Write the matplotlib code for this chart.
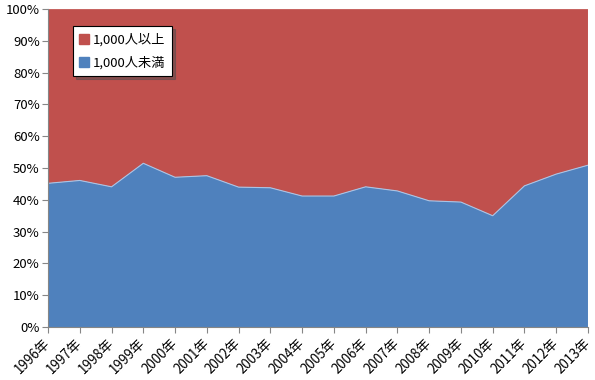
import numpy as np
import matplotlib
matplotlib.use("Agg")
import matplotlib.pyplot as plt
import matplotlib.transforms as mtransforms
from matplotlib.patches import Patch

plt.rcParams['font.family'] = ['Noto Sans CJK JP', 'DejaVu Sans']

years = [1996, 1997, 1998, 1999, 2000, 2001, 2002, 2003, 2004,
         2005, 2006, 2007, 2008, 2009, 2010, 2011, 2012, 2013]
labels = [str(y) + '年' for y in years]
under_1000 = [45.2, 46.1, 44.1, 51.5, 47.1, 47.6, 44.0, 43.8, 41.2,
              41.2, 44.1, 42.8, 39.7, 39.3, 35.0, 44.4, 48.1, 50.9]
over_1000 = [100 - v for v in under_1000]

blue = '#4F81BD'
red = '#C0504D'

fig = plt.figure(figsize=(5.95, 3.8), dpi=100)
ax = fig.add_axes([0.0807, 0.1395, 0.9075, 0.8365])

x = np.arange(len(years))
ax.stackplot(x, under_1000, over_1000, colors=[blue, red], linewidth=0)
ax.plot(x, under_1000, color='#a9c4e6', lw=0.8)

ax.set_xlim(0, len(years) - 1)
ax.set_ylim(0, 100)
ax.set_yticks(np.arange(0, 101, 10))
ax.set_yticklabels([f'{v}%' for v in range(0, 101, 10)], fontsize=9.5)
ax.set_xticks(x)
ax.set_xticklabels([])

# year labels drawn by hand, a bit left of the tick so the last one fits
shift = mtransforms.ScaledTranslation(-5 / 100, -9 / 100, fig.dpi_scale_trans)
for xi, lab in zip(x, labels):
    ax.text(xi, 0, lab, transform=ax.get_xaxis_transform() + shift,
            rotation=45, ha='right', va='top', rotation_mode='anchor',
            fontsize=9.6, clip_on=False)

for s in ['top', 'right']:
    ax.spines[s].set_visible(False)
for s in ['left', 'bottom']:
    ax.spines[s].set_color('#868686')
ax.tick_params(axis='both', direction='out', length=4, color='#868686', pad=2)

handles = [Patch(color=red, label='1,000人以上'), Patch(color=blue, label='1,000人未満')]
leg = ax.legend(handles=handles, loc='upper left', bbox_to_anchor=(0.046, 0.946),
                borderaxespad=0, fontsize=9.5, frameon=True, fancybox=False, shadow=True,
                handlelength=0.75, handleheight=0.75, handletextpad=0.25,
                labelspacing=0.75, borderpad=0.5)
leg.get_frame().set_edgecolor('black')
leg.get_frame().set_linewidth(0.8)

fig.savefig('out.png', dpi=100)
